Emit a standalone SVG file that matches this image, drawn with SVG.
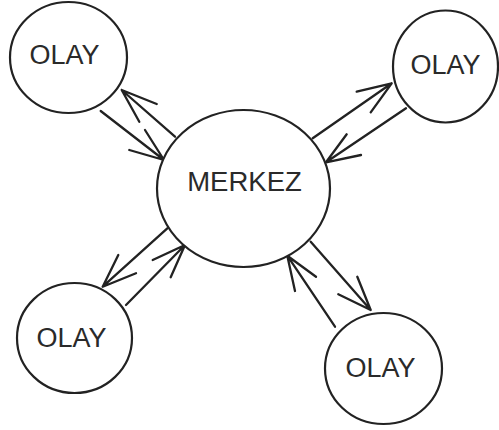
<svg xmlns="http://www.w3.org/2000/svg" width="499" height="430" viewBox="0 0 499 430">
<style>
.node ellipse{fill:#fff;stroke:#222;stroke-width:2.2}
.node text{font-family:"Liberation Sans",Arial,sans-serif;fill:#2a2a2a;text-anchor:middle}
.olay{font-size:27px}
.merkez{font-size:27.5px}
#connectors path{fill:none;stroke:#222;stroke-width:2.3;stroke-linecap:round;stroke-linejoin:round}
</style>
<rect width="499" height="430" fill="#fff"/>
<g id="connectors">
<path d="M100.7,111 L164,160 M129.3,150 L164,160 L145,130"/>
<path d="M175,136.7 L121.7,90 M156.7,104 L121.7,90 L139.3,121.7"/>
<path d="M312.7,138.3 L391.7,83.3 M356.7,91.7 L391.7,83.3 L370.7,112.3"/>
<path d="M406,108.3 L326,162.3 M361,155 L326,162.3 L346.7,134.3"/>
<path d="M167.3,228.3 L102.7,286.7 M118.3,255 L102.7,286.7 L136,273.3"/>
<path d="M126,305 L185,245 M152.7,260 L185,245 L170.7,277.3"/>
<path d="M335,326.7 L287.3,255.7 M316,276.7 L287.3,255.7 L295,291"/>
<path d="M310.7,241.7 L370.7,310 M357.3,276.7 L370.7,310 L338.3,294.3"/>
</g>
<g id="merkez" class="node">
<ellipse cx="243.5" cy="188.5" rx="86.5" ry="78.5"/>
<text class="merkez" x="244.5" y="191">MERKEZ</text>
</g>
<g id="olay-top-left" class="node">
<ellipse cx="68.5" cy="57.5" rx="58.5" ry="55.5"/>
<text class="olay" x="64.5" y="64">OLAY</text>
</g>
<g id="olay-top-right" class="node">
<ellipse cx="445.5" cy="66.5" rx="52.5" ry="56"/>
<text class="olay" x="445.5" y="74">OLAY</text>
</g>
<g id="olay-bottom-left" class="node">
<ellipse cx="74.5" cy="338" rx="57.5" ry="55"/>
<text class="olay" x="71.5" y="347">OLAY</text>
</g>
<g id="olay-bottom-right" class="node">
<ellipse cx="383.5" cy="368.5" rx="58.5" ry="55.5"/>
<text class="olay" x="380.5" y="377">OLAY</text>
</g>
</svg>
